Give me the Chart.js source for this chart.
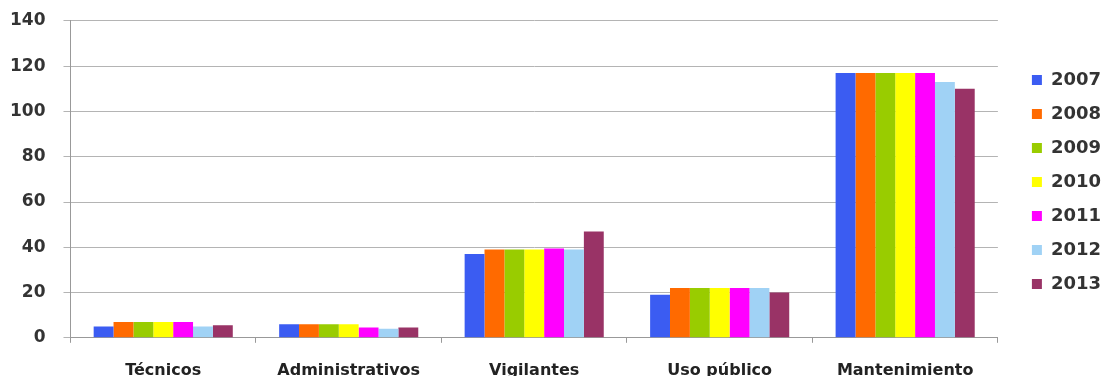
<!DOCTYPE html>
<html>
<head>
<meta charset="utf-8">
<script src="https://cdn.jsdelivr.net/npm/chart.js@4/dist/chart.umd.min.js"></script>
<style>
  html, body { margin: 0; padding: 0; background: #fff; overflow: hidden; }
  #wrap { width: 1110px; height: 398px; position: relative; }
</style>
</head>
<body>
<div id="wrap"><canvas id="chart"></canvas></div>
<script>
// categories and values
const categories = ['Técnicos', 'Administrativos', 'Vigilantes', 'Uso público', 'Mantenimiento'];
const years = ['2007', '2008', '2009', '2010', '2011', '2012', '2013'];
const v2007 = [5, 6, 37, 19, 117];
const v2008 = [7, 6, 39, 22, 117];
const v2009 = [7, 6, 39, 22, 117];
const v2010 = [7, 6, 39, 22, 117];
const v2011 = [7, 4.5, 39.5, 22, 117];
const v2012 = [5, 4, 39, 22, 113];
const v2013 = [5.5, 4.5, 47, 20, 110];
const yTicks = [0, 20, 40, 60, 80, 100, 120, 140];

const colors = ['#3b5cf2', '#ff6a00', '#99cc00', '#ffff00', '#ff00ff', '#a0d2f5', '#993366'];
const series = [v2007, v2008, v2009, v2010, v2011, v2012, v2013];

const datasets = years.map((y, i) => ({
  label: y,
  data: series[i],
  backgroundColor: colors[i],
  borderWidth: 0,
  categoryPercentage: 0.75,
  barPercentage: 1.0,
}));

// move the legend a bit so it sits where the original has it
const legendShift = {
  id: 'legendShift',
  afterLayout(chart) {
    const l = chart.legend;
    l.left += 18; l.right += 18;
    l.top -= 21; l.bottom -= 21;
  },
};

// config
const config = {
  type: 'bar',
  data: { labels: categories, datasets: datasets },
  options: {
    responsive: true,
    maintainAspectRatio: false,
    animation: false,
    layout: { padding: { top: 8, left: -8, right: 17, bottom: 0 } },
    plugins: {
      tooltip: { enabled: false },
      legend: {
        position: 'right',
        align: 'center',
        labels: {
          boxWidth: 10,
          boxHeight: 10,
          padding: 16,
          color: '#333',
          font: { family: 'DejaVu Sans', size: 18, weight: 'bold' },
        },
      },
    },
    scales: {
      x: {
        grid: { display: true, drawOnChartArea: false, color: '#999', tickLength: 5 },
        border: { display: true, color: '#999' },
        ticks: {
          color: '#222',
          padding: 18,
          maxRotation: 0,
          font: { family: 'DejaVu Sans', size: 16, weight: 'bold' },
        },
      },
      y: {
        min: 0,
        max: 140,
        afterBuildTicks: (axis) => { axis.ticks = yTicks.map((v) => ({ value: v })); },
        grid: { color: '#b4b4b4', tickLength: 7 },
        border: { display: true, color: '#999' },
        ticks: {
          color: '#333',
          padding: 18,
          font: { family: 'DejaVu Sans', size: 17, weight: 'bold', lineHeight: 0.35 },
        },
      },
    },
  },
  plugins: [legendShift],
};

const chart = new Chart(document.getElementById('chart'), config);
</script>
</body>
</html>
